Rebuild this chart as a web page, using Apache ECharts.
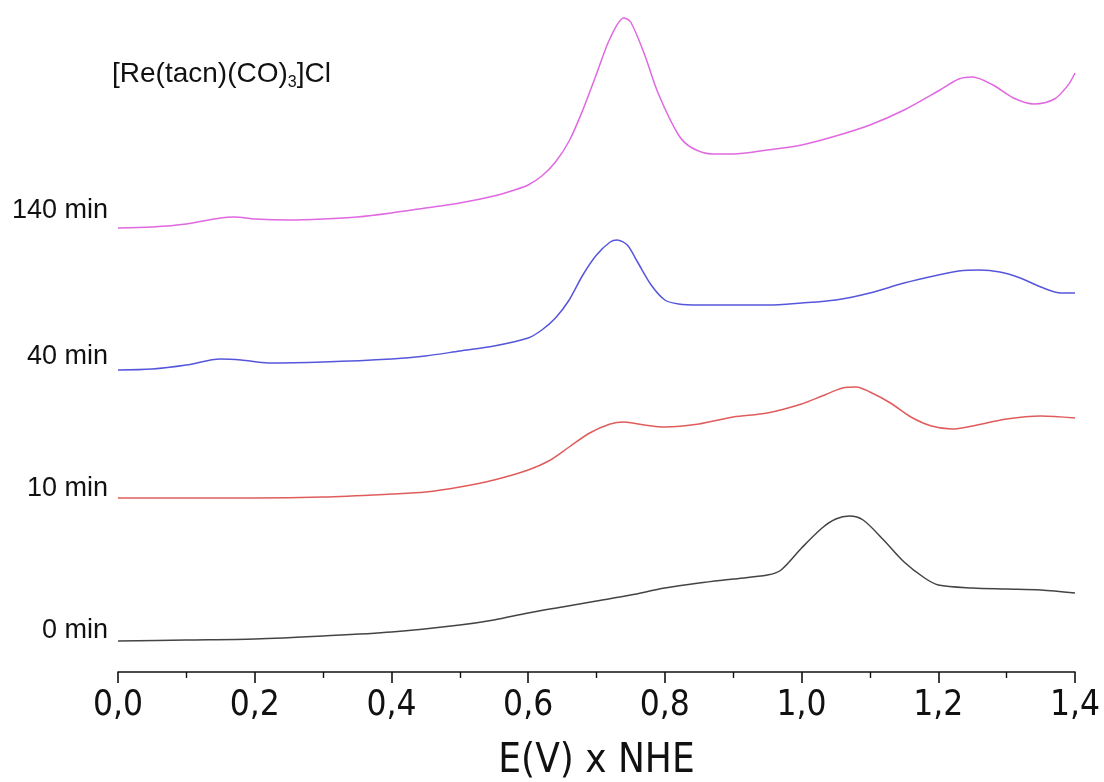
<!DOCTYPE html>
<html>
<head>
<meta charset="utf-8">
<script src="https://cdn.jsdelivr.net/npm/echarts@6/dist/echarts.min.js"></script>
<style>
  html, body { margin: 0; padding: 0; background: #fff; }
  #chart { width: 1104px; height: 782px; }
</style>
</head>
<body>
<div id="chart"></div>
<script>
// Potential (V vs NHE) and vertically offset current traces (arbitrary units)
const trace0min = [
  [0.00, 31], [0.10, 32], [0.20, 33], [0.30, 36], [0.40, 40], [0.50, 47],
  [0.55, 52], [0.60, 59], [0.65, 65], [0.70, 71], [0.75, 77], [0.80, 84],
  [0.85, 89], [0.90, 93], [0.95, 97], [0.97, 102], [1.00, 124], [1.03, 144],
  [1.05, 153], [1.07, 156], [1.09, 152], [1.12, 132], [1.15, 110], [1.18, 94],
  [1.20, 87], [1.25, 84], [1.30, 83], [1.35, 82], [1.40, 79]
];
const trace10min = [
  [0.00, 174], [0.10, 174], [0.20, 174], [0.30, 175], [0.40, 178], [0.45, 180],
  [0.50, 185], [0.55, 192], [0.60, 202], [0.63, 211], [0.66, 225], [0.69, 239],
  [0.72, 248], [0.74, 250], [0.77, 247], [0.80, 245], [0.85, 248], [0.90, 255],
  [0.95, 259], [1.00, 268], [1.03, 276], [1.06, 284], [1.08, 285], [1.10, 280],
  [1.13, 269], [1.16, 255], [1.19, 246], [1.22, 243], [1.25, 246], [1.30, 253],
  [1.35, 256], [1.40, 254]
];
const trace40min = [
  [0.00, 302], [0.05, 303], [0.10, 307], [0.15, 313], [0.18, 312], [0.22, 309],
  [0.30, 310], [0.40, 313], [0.45, 316], [0.50, 321], [0.55, 326], [0.60, 334],
  [0.62, 342], [0.64, 354], [0.66, 372], [0.68, 397], [0.70, 417], [0.72, 430],
  [0.73, 432], [0.745, 427], [0.76, 410], [0.78, 387], [0.80, 372], [0.82, 368],
  [0.85, 367], [0.90, 367], [0.95, 367], [1.00, 369], [1.05, 372], [1.10, 379],
  [1.15, 389], [1.20, 397], [1.23, 401], [1.26, 402], [1.29, 400], [1.32, 394],
  [1.35, 385], [1.38, 379], [1.40, 379]
];
const trace140min = [
  [0.00, 444], [0.05, 445], [0.10, 448], [0.15, 454], [0.17, 455], [0.20, 453],
  [0.25, 452], [0.30, 453], [0.35, 455], [0.40, 459], [0.45, 464], [0.50, 469],
  [0.55, 476], [0.58, 482], [0.60, 487], [0.62, 496], [0.64, 510], [0.66, 531],
  [0.68, 562], [0.70, 598], [0.72, 634], [0.74, 654], [0.75, 650], [0.77, 618],
  [0.79, 579], [0.82, 537], [0.84, 524], [0.87, 518], [0.90, 518], [0.95, 522],
  [1.00, 527], [1.05, 536], [1.10, 547], [1.15, 562], [1.20, 581], [1.23, 593],
  [1.25, 595], [1.28, 587], [1.31, 574], [1.34, 568], [1.37, 573], [1.39, 587],
  [1.40, 599]
];

const traceNames = ['0 min', '10 min', '40 min', '140 min'];
const traceColors = ['#444444', '#e05c5c', '#5656dc', '#e068e0'];
const traces = [trace0min, trace10min, trace40min, trace140min];

const chart = echarts.init(document.getElementById('chart'), null, { renderer: 'canvas' });

const labelFont = '"Liberation Sans", Arial, sans-serif';
const narrowFont = '"Liberation Sans Narrow", "Arial Narrow", "DejaVu Sans Condensed", sans-serif';

// Trace labels, right-aligned to the left of each trace start
const traceLabelY = [632, 490, 358, 212];
const traceLabels = traceNames.map((name, i) => ({
  type: 'text',
  right: 1104 - 108,
  top: traceLabelY[i] - 15,
  style: { text: name, font: '27px ' + labelFont, fill: '#111', textAlign: 'right' }
}));

chart.setOption({
  animation: false,
  backgroundColor: '#ffffff',
  grid: { left: 118, right: 29, top: 0, bottom: 110, containLabel: false, outerBoundsMode: 'none' },
  xAxis: {
    type: 'value',
    min: 0,
    max: 1.4,
    interval: 0.2,
    name: 'E(V) x NHE',
    nameLocation: 'middle',
    nameGap: 70,
    nameTextStyle: { fontFamily: narrowFont, fontSize: 40, color: '#111' },
    axisLine: { show: true, lineStyle: { color: '#111', width: 1.6 } },
    axisTick: { show: true, inside: false, length: 11, lineStyle: { color: '#111', width: 1.6 } },
    minorTick: { show: true, splitNumber: 2, length: 6, lineStyle: { color: '#111', width: 1.4 } },
    splitLine: { show: false },
    axisLabel: {
      margin: 16,
      fontFamily: narrowFont,
      fontSize: 35,
      color: '#111',
      formatter: v => v.toFixed(1).replace('.', ',')
    }
  },
  yAxis: {
    type: 'value',
    min: 0,
    max: 672,
    show: false
  },
  series: traces.map((data, i) => ({
    name: traceNames[i],
    type: 'line',
    data: data,
    smooth: 0.3,
    showSymbol: false,
    lineStyle: { color: traceColors[i], width: 1.5 },
    z: 2
  })),
  graphic: [
    {
      type: 'text',
      left: 112,
      top: 60,
      style: {
        text: '[Re(tacn)(CO){sub|3}]Cl',
        font: '28px ' + labelFont,
        fill: '#111',
        rich: {
          sub: { fontSize: 16, fontFamily: labelFont, fill: '#111', padding: [18, 0, 0, 0] }
        }
      }
    }
  ].concat(traceLabels)
});
</script>
</body>
</html>
